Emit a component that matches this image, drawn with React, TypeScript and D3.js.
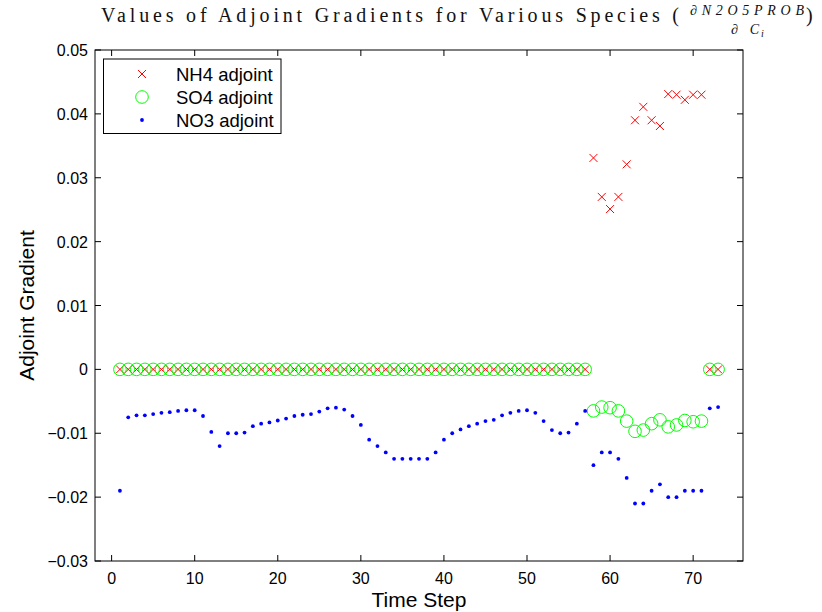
import React from "react";
import * as d3 from "d3";

// time steps 1..73
const steps = d3.range(1, 74);

// NH4 adjoint: zero until step 57, then non-zero, back to zero at 72-73
const nh4Tail = [0.0331, 0.027, 0.0251, 0.027, 0.0321, 0.039, 0.0411, 0.039, 0.0381, 0.0431, 0.043, 0.0422, 0.043, 0.043];
// SO4 adjoint
const so4Tail = [-0.0065, -0.0059, -0.006, -0.0065, -0.0081, -0.0097, -0.0095, -0.0085, -0.0079, -0.009, -0.0087, -0.008, -0.0082, -0.0081];
// NO3 adjoint, steps 1..73
const no3 = [
  -0.019, -0.0075, -0.0072, -0.0072, -0.007, -0.0068, -0.0067, -0.0065, -0.0064, -0.0064,
  -0.0073, -0.0098, -0.012, -0.01, -0.01, -0.0099, -0.0089, -0.0085, -0.0083, -0.008,
  -0.0077, -0.0073, -0.0071, -0.007, -0.0066, -0.0061, -0.006, -0.0063, -0.0073, -0.0087,
  -0.011, -0.012, -0.013, -0.014, -0.014, -0.014, -0.014, -0.014, -0.013, -0.011,
  -0.01, -0.0094, -0.0089, -0.0085, -0.0081, -0.0079, -0.0072, -0.0068, -0.0065, -0.0064,
  -0.0068, -0.0081, -0.0095, -0.01, -0.0099, -0.0085, -0.0065, -0.015, -0.013, -0.013,
  -0.014, -0.017, -0.021, -0.021, -0.019, -0.018, -0.02, -0.02, -0.019, -0.019,
  -0.019, -0.0061, -0.0059,
];
const zeros57 = d3.range(57).map(() => 0);
const nh4 = [...zeros57, ...nh4Tail, 0, 0];
const so4 = [...zeros57, ...so4Tail, 0, 0];

const xTicks = [0, 10, 20, 30, 40, 50, 60, 70];
const yTicks = [-0.03, -0.02, -0.01, 0, 0.01, 0.02, 0.03, 0.04, 0.05];
const legendLabels = ["NH4 adjoint", "SO4 adjoint", "NO3 adjoint"];

const W = 822, H = 612;
const margin = { left: 95, right: 79, top: 50, bottom: 51 };

export default function App() {
  const x = d3.scaleLinear().domain([-2, 76]).range([margin.left, W - margin.right]);
  const y = d3.scaleLinear().domain([-0.03, 0.05]).range([H - margin.bottom, margin.top]);
  const [x0, x1] = x.range();
  const [y0, y1] = y.range(); // y0 bottom, y1 top
  const tl = 6;
  const sans = "'Liberation Sans', Arial, sans-serif";
  const serif = "'Liberation Serif', 'DejaVu Serif', serif";
  const fmtY = (v: number) => (v === 0 ? "0" : (v < 0 ? "\u2212" : "") + Math.abs(v).toFixed(2));

  const cross = (cx: number, cy: number, k: string) => (
    <path key={k} d={`M${cx - 4},${cy - 4}L${cx + 4},${cy + 4}M${cx - 4},${cy + 4}L${cx + 4},${cy - 4}`} stroke="#ff0000" strokeWidth={1} fill="none" />
  );

  return (
    <svg width={W} height={H} style={{ position: "absolute", left: 0, top: 0, background: "#fff" }}>
      <rect x={0} y={0} width={W} height={H} fill="#fff" />
      {/* title */}
      <g fontFamily={serif} fill="#111">
        <text x={101} y={22} fontSize={20} textLength={578} lengthAdjust="spacing">
          Values of Adjoint Gradients for Various Species (
        </text>
        <text x={690} y={15} fontSize={14} fontStyle="italic" textLength={114} lengthAdjust="spacing">
          ∂N2O5PROB
        </text>
        <text x={731} y={34} fontSize={14} fontStyle="italic" textLength={28} lengthAdjust="spacing">
          ∂C
        </text>
        <text x={761} y={37} fontSize={10} fontStyle="italic">i</text>
        <text x={806} y={22} fontSize={20}>)</text>
      </g>

      {/* axes frame and ticks */}
      <rect x={x0} y={y1} width={x1 - x0} height={y0 - y1} fill="none" stroke="#000" strokeWidth={1} />
      {xTicks.map((t) => (
        <g key={"xt" + t}>
          <line x1={x(t)} x2={x(t)} y1={y0} y2={y0 - tl} stroke="#000" />
          <line x1={x(t)} x2={x(t)} y1={y1} y2={y1 + tl} stroke="#000" />
          <text x={x(t)} y={y0 + 23} fontFamily={sans} fontSize={16} textAnchor="middle">{t}</text>
        </g>
      ))}
      {yTicks.map((t) => (
        <g key={"yt" + t}>
          <line x1={x0} x2={x0 + tl} y1={y(t)} y2={y(t)} stroke="#000" />
          <line x1={x1} x2={x1 - tl} y1={y(t)} y2={y(t)} stroke="#000" />
          <text x={x0 - 7} y={y(t) + 6} fontFamily={sans} fontSize={16} textAnchor="end">{fmtY(t)}</text>
        </g>
      ))}
      <text x={(x0 + x1) / 2} y={H - 5} fontFamily={sans} fontSize={21} textAnchor="middle">Time Step</text>
      <text transform={`translate(34,${(y0 + y1) / 2}) rotate(-90)`} fontFamily={sans} fontSize={21} textAnchor="middle">Adjoint Gradient</text>

      {/* series */}
      <g>{steps.map((s, i) => cross(x(s), y(nh4[i]), "n" + s))}</g>
      <g>
        {steps.map((s, i) => (
          <circle key={"s" + s} cx={x(s)} cy={y(so4[i])} r={6.3} fill="none" stroke="#00ff00" strokeWidth={1} />
        ))}
      </g>
      <g>
        {steps.map((s, i) => (
          <circle key={"o" + s} cx={x(s)} cy={y(no3[i])} r={1.9} fill="#0000ff" />
        ))}
      </g>

      {/* legend */}
      <g>
        <rect x={103.5} y={59} width={177.5} height={74.5} fill="#fff" stroke="#000" strokeWidth={1} />
        {cross(142, 74, "lg0")}
        <circle cx={142} cy={97} r={6.3} fill="none" stroke="#00ff00" strokeWidth={1} />
        <circle cx={142} cy={120} r={1.9} fill="#0000ff" />
        {legendLabels.map((l, i) => (
          <text key={l} x={176} y={80.5 + i * 23} fontFamily={sans} fontSize={18.5}>{l}</text>
        ))}
      </g>
    </svg>
  );
}
